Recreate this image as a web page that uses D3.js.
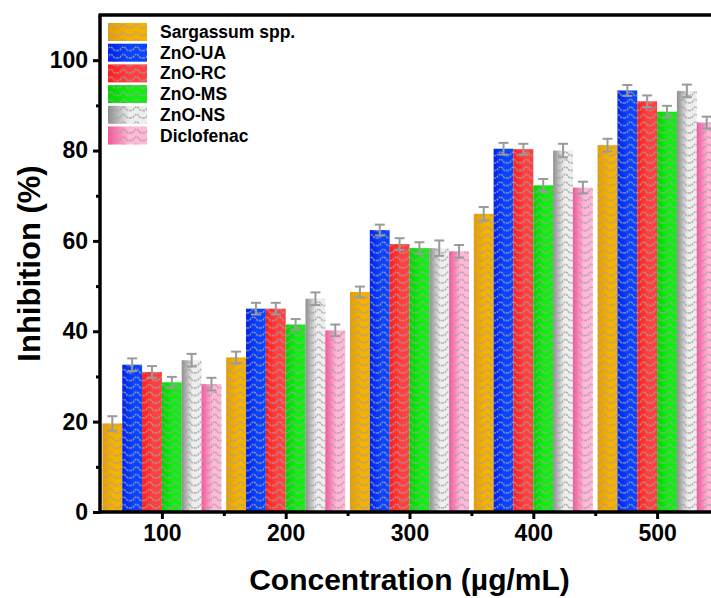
<!DOCTYPE html>
<html>
<head>
<meta charset="utf-8">
<script src="https://cdn.jsdelivr.net/npm/d3@7"></script>
<style>
  body { margin: 0; background: #fff; }
  svg { display: block; font-family: "Liberation Sans", Arial, sans-serif; }
</style>
</head>
<body>
<script>
let width = 711;
let height = 598;

let concentrations = [100, 200, 300, 400, 500];
let series = ["Sargassum spp.", "ZnO-UA", "ZnO-RC", "ZnO-MS", "ZnO-NS", "Diclofenac"];

let sargassum = [19.6, 34.2, 48.7, 66.0, 81.2];
let znoUA = [32.6, 45.0, 62.4, 80.4, 93.3];
let znoRC = [31.0, 45.0, 59.3, 80.3, 90.9];
let znoMS = [28.7, 41.5, 58.4, 72.3, 88.6];
let znoNS = [33.6, 47.2, 58.4, 80.0, 93.2];
let diclofenac = [28.3, 40.2, 57.7, 71.8, 86.2];

let sargassumErr = [1.6, 1.3, 1.2, 1.5, 1.4];
let znoUAErr = [1.4, 1.3, 1.2, 1.3, 1.2];
let znoRCErr = [1.3, 1.3, 1.3, 1.2, 1.3];
let znoMSErr = [1.2, 1.2, 1.3, 1.4, 1.3];
let znoNSErr = [1.4, 1.4, 1.7, 1.5, 1.4];
let diclofenacErr = [1.4, 1.3, 1.4, 1.3, 1.3];

let yTicks = [0, 20, 40, 60, 80, 100];
let yMinor = [10, 30, 50, 70, 90];
let xMinor = [150, 250, 350, 450];

let values = [sargassum, znoUA, znoRC, znoMS, znoNS, diclofenac];
let errors = [sargassumErr, znoUAErr, znoRCErr, znoMSErr, znoNSErr, diclofenacErr];

// left-to-right gradient stops per series (dark edge -> light edge)
let colors = [
    ["#e89e00", "#f7b200"],
    ["#0022ee", "#0a44ff"],
    ["#ff1c1c", "#ff4040"],
    ["#00d400", "#10ee10"],
    ["#8c8c8c", "#eeeeee"],
    ["#ff4d9a", "#ffb8d8"],
];

let mLeft = 100, mRight = 719, mTop = 15, mBottom = 512;

let x = d3.scaleLinear().domain([50, 550]).range([mLeft, mRight]);
let y = d3.scaleLinear().domain([0, 110]).range([mBottom, mTop]);

let groupW = 119;
let inner = d3.scaleBand().domain(series).range([0, groupW]);

let svg = d3.select("body").append("svg")
    .attr("width", width)
    .attr("height", height);

let defs = svg.append("defs");

colors.forEach((c, i) => {
    let g = defs.append("linearGradient")
        .attr("id", "grad" + i)
        .attr("x1", "0").attr("x2", "1").attr("y1", "0").attr("y2", "0");
    g.append("stop").attr("offset", "0").attr("stop-color", c[0]);
    g.append("stop").attr("offset", "0.55").attr("stop-color", c[1]);
    g.append("stop").attr("offset", "1").attr("stop-color", c[1]);
});

// wavy hatch overlay
let pat = defs.append("pattern")
    .attr("id", "wave")
    .attr("patternUnits", "userSpaceOnUse")
    .attr("width", 13)
    .attr("height", 7.5);
pat.append("path")
    .attr("d", "M0,5.5 L2.5,5.5 L4.5,3 L6.5,1.5 L8.5,3 L10.5,5.5 L13,5.5")
    .attr("fill", "none")
    .attr("stroke", "#a0a0a0")
    .attr("stroke-width", 1.3)
    .attr("stroke-dasharray", "2,1");

let clip = defs.append("clipPath").attr("id", "plotclip");
clip.append("rect").attr("x", mLeft).attr("y", mTop).attr("width", width - mLeft).attr("height", mBottom - mTop);

let plot = svg.append("g").attr("clip-path", "url(#plotclip)");

// Bars
let rows = [];
concentrations.forEach((c, ci) => {
    series.forEach((s, si) => {
        rows.push({ c: c, s: s, si: si, v: values[si][ci], e: errors[si][ci] });
    });
});

let bx = d => x(d.c) - groupW / 2 + inner(d.s);

plot.selectAll("rect.bar")
    .data(rows)
    .enter()
    .append("rect")
    .attr("class", "bar")
    .attr("x", bx)
    .attr("y", d => y(d.v))
    .attr("width", inner.bandwidth())
    .attr("height", d => y(0) - y(d.v))
    .style("fill", d => "url(#grad" + d.si + ")");

plot.selectAll("rect.hatch")
    .data(rows)
    .enter()
    .append("rect")
    .attr("class", "hatch")
    .attr("x", bx)
    .attr("y", d => y(d.v))
    .attr("width", inner.bandwidth())
    .attr("height", d => y(0) - y(d.v))
    .style("fill", "url(#wave)");

// Error bars
let eb = plot.selectAll("g.err")
    .data(rows)
    .enter()
    .append("g")
    .attr("class", "err")
    .attr("stroke", "#9a9a9a")
    .attr("stroke-width", 2);
let cx = d => bx(d) + inner.bandwidth() / 2;
eb.append("line")
    .attr("x1", cx).attr("x2", cx)
    .attr("y1", d => y(d.v + d.e)).attr("y2", d => y(d.v - d.e));
eb.append("line")
    .attr("x1", d => cx(d) - 5).attr("x2", d => cx(d) + 5)
    .attr("y1", d => y(d.v + d.e)).attr("y2", d => y(d.v + d.e));
eb.append("line")
    .attr("x1", d => cx(d) - 5).attr("x2", d => cx(d) + 5)
    .attr("y1", d => y(d.v - d.e)).attr("y2", d => y(d.v - d.e));

// Axes
svg.append("g")
    .attr("transform", "translate(" + mLeft + ",0)")
    .call(d3.axisLeft(y).tickValues(yTicks).tickSize(7).tickPadding(5));
svg.append("g")
    .attr("transform", "translate(" + mLeft + ",0)")
    .call(d3.axisLeft(y).tickValues(yMinor).tickSize(4).tickFormat(""));

svg.append("g")
    .attr("transform", "translate(0," + mBottom + ")")
    .call(d3.axisBottom(x).tickValues(concentrations).tickSize(7).tickPadding(6));
svg.append("g")
    .attr("transform", "translate(0," + mBottom + ")")
    .call(d3.axisBottom(x).tickValues(xMinor).tickSize(4).tickFormat(""));

svg.selectAll(".domain").remove();
svg.selectAll(".tick line").attr("stroke", "black").attr("stroke-width", 3);
svg.selectAll(".tick text")
    .style("font-size", "23px")
    .style("font-weight", "bold")
    .attr("fill", "black");

// frame lines
svg.append("line")
    .attr("x1", mLeft).attr("x2", width)
    .attr("y1", mBottom).attr("y2", mBottom)
    .attr("stroke", "black").attr("stroke-width", 3.5);
svg.append("line")
    .attr("x1", mLeft).attr("x2", mLeft)
    .attr("y1", mTop).attr("y2", mBottom + 1.5)
    .attr("stroke", "black").attr("stroke-width", 3.5);
svg.append("line")
    .attr("x1", mLeft - 1.5).attr("x2", width)
    .attr("y1", mTop).attr("y2", mTop)
    .attr("stroke", "black").attr("stroke-width", 3.5);

// Axis titles, centred on the full plot layer
svg.append("text")
    .attr("x", (mLeft + mRight) / 2)
    .attr("y", 590)
    .attr("text-anchor", "middle")
    .style("font-size", "30px")
    .style("font-weight", "bold")
    .text("Concentration (\u00b5g/mL)");

svg.append("text")
    .attr("transform", "translate(40," + (mTop + mBottom) / 2 + ") rotate(-90)")
    .attr("text-anchor", "middle")
    .style("font-size", "31px")
    .style("font-weight", "bold")
    .text("Inhibition (%)");

// Legend
let legend = svg.append("g");
series.forEach((s, i) => {
    let ly = 23 + i * 20.7;
    legend.append("rect")
        .attr("x", 108).attr("y", ly)
        .attr("width", 39).attr("height", 18)
        .style("fill", "url(#grad" + i + ")");
    legend.append("rect")
        .attr("x", 108).attr("y", ly)
        .attr("width", 39).attr("height", 18)
        .style("fill", "url(#wave)");
    legend.append("text")
        .attr("x", 160).attr("y", ly + 15)
        .style("font-size", "17.5px")
        .style("font-weight", "bold")
        .text(s);
});
</script>
</body>
</html>
